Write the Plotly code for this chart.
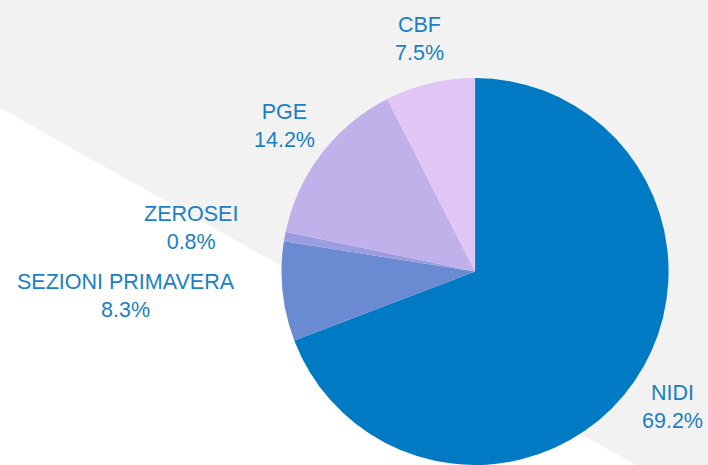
import math
import plotly.graph_objects as go

labels = ["NIDI", "SEZIONI PRIMAVERA", "ZEROSEI", "PGE", "CBF"]
values = [69.2, 8.3, 0.8, 14.2, 7.5]
colors = ["#007bc3", "#6a8bd2", "#9b9de0", "#c0b1ea", "#e1c5f4"]

W, H = 708, 465
top = 78
dom_x = [0.342, 1.0]
dom_y = [0, 1 - top / H]

fig = go.Figure(go.Pie(
    labels=labels, values=values, sort=False, direction="clockwise", rotation=0,
    marker=dict(colors=colors, line=dict(width=0)),
    textinfo="none", hoverinfo="label+percent", showlegend=False,
    domain=dict(x=dom_x, y=dom_y),
))

# label annotations placed along each slice's mid-angle
plot_h = H - top
r_pie = min((dom_x[1] - dom_x[0]) * W, plot_h) / 2
cx = (dom_x[0] + dom_x[1]) / 2 * W
cy = top + plot_h / 2
r_lab = r_pie + 46
total = sum(values)
cum = 0
for lab, v in zip(labels, values):
    mid = (cum + v / 2) / total * 2 * math.pi
    cum += v
    s, c = math.sin(mid), math.cos(mid)
    px = cx + r_lab * s
    py = cy - r_lab * c
    xa = "center"
    if s < -0.9:
        xa = "right"
    elif s > 0.9:
        xa = "left"
    fig.add_annotation(
        x=px / W, y=1 - py / H, xref="paper", yref="paper",
        xanchor=xa, yanchor="middle", showarrow=False, align="center",
        text=f"{lab}<br>{v:.1f}%",
        font=dict(family="Liberation Sans, Arial", size=21.5, color="#1a7fc4"),
    )

fig.update_layout(
    width=W, height=H,
    margin=dict(l=0, r=0, t=0, b=0),
    paper_bgcolor="white", plot_bgcolor="white",
    shapes=[dict(
        type="path", xref="paper", yref="paper", layer="below",
        path=f"M 0 1 L 1 1 L 1 0 L {636/W} 0 L 0 {1-108/H} Z",
        fillcolor="#f2f2f2", line=dict(width=0),
    )],
)

fig.write_html("out.html", config={"displayModeBar": False},
               post_script="document.body.style.margin='0';")
